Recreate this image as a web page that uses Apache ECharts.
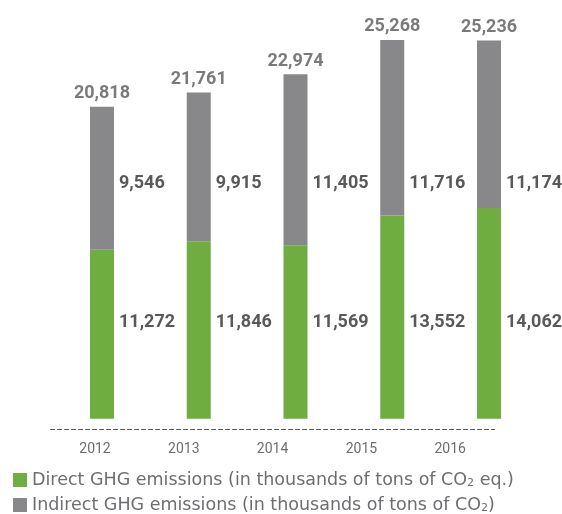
<!DOCTYPE html>
<html>
<head>
<meta charset="utf-8">
<script src="https://cdn.jsdelivr.net/npm/echarts@6/dist/echarts.min.js"></script>
<style>html,body{margin:0;padding:0;background:#fff}#c{width:562px;height:514px}</style>
</head>
<body>
<div id="c"></div>
<script>
const years = ['2012', '2013', '2014', '2015', '2016'];
const direct = [11272, 11846, 11569, 13552, 14062];
const indirect = [9546, 9915, 11405, 11716, 11174];
const totals = [20818, 21761, 22974, 25268, 25236];
const legendNames = ['Direct GHG emissions (in thousands of tons of CO2 eq.)', 'Indirect GHG emissions (in thousands of tons of CO2)'];

const GREEN = '#70ad40';
const GRAY = '#88888a';
const VALUE_COLOR = '#59595b';
const UPPER_LABEL_Y = 183.5;
const LOWER_LABEL_Y = 322.5;

const fmt = v => v.toLocaleString('en-US');
const valueFont = { fontFamily: 'Roboto, "Liberation Sans", sans-serif', fontWeight: 'bold', fontSize: 18, color: VALUE_COLOR };

const chart = echarts.init(document.getElementById('c'), null, { renderer: 'canvas' });
chart.setOption({
  animation: false,
  backgroundColor: '#fff',
  grid: [
    { left: 53.6, right: 24.6, top: 29, bottom: 95.3 },
    { left: 50.6, right: 67.4, top: 29, bottom: 95.3 }
  ],
  xAxis: [
    { type: 'category', gridIndex: 0, data: years, show: false },
    { type: 'category', gridIndex: 1, data: years, offset: 10.6,
      axisLine: { onZero: false, lineStyle: { color: '#555', type: [4, 3], width: 1 } },
      axisTick: { show: false },
      axisLabel: { color: '#6d6e71', fontSize: 14, margin: 13, fontFamily: 'Roboto, "Liberation Sans", sans-serif' } }
  ],
  yAxis: [
    { type: 'value', gridIndex: 0, min: 0, max: 26000, show: false },
    { type: 'value', gridIndex: 1, min: 0, max: 26000, show: false }
  ],
  legend: {
    orient: 'vertical', left: 13, top: 471, padding: 0, itemGap: 7,
    itemWidth: 14, itemHeight: 14, icon: 'rect',
    data: legendNames,
    formatter: n => n.replace('CO2', 'CO{sub|2}'),
    textStyle: { color: '#6d6e71', fontSize: 17.5, lineHeight: 18, fontFamily: '"DejaVu Sans", sans-serif', padding: [0, 0, 0, 0],
      rich: { sub: { fontSize: 11, color: '#6d6e71', fontFamily: '"DejaVu Sans", sans-serif', verticalAlign: 'bottom', lineHeight: 12, padding: [6, 0, 0, 0] } } }
  },
  series: [
    { name: legendNames[0], type: 'bar', stack: 'ghg', data: direct, barWidth: 24,
      xAxisIndex: 0, yAxisIndex: 0, itemStyle: { color: GREEN },
      label: Object.assign({ show: true, position: 'right', distance: 5, formatter: p => fmt(p.value) }, valueFont),
      labelLayout: () => ({ y: LOWER_LABEL_Y, verticalAlign: 'middle' }) },
    { name: legendNames[1], type: 'bar', stack: 'ghg', data: indirect, barWidth: 24,
      xAxisIndex: 0, yAxisIndex: 0, itemStyle: { color: GRAY },
      label: Object.assign({ show: true, position: 'right', distance: 5, formatter: p => fmt(p.value) }, valueFont),
      labelLayout: () => ({ y: UPPER_LABEL_Y, verticalAlign: 'middle' }) },
    { name: 'Total', type: 'scatter', data: totals, symbolSize: 0, xAxisIndex: 0, yAxisIndex: 0,
      label: Object.assign({ show: true, position: 'top', distance: 4, formatter: p => fmt(p.value) }, valueFont) },
    { name: 'axis', type: 'bar', data: [], xAxisIndex: 1, yAxisIndex: 1 }
  ]
});
</script>
</body>
</html>
